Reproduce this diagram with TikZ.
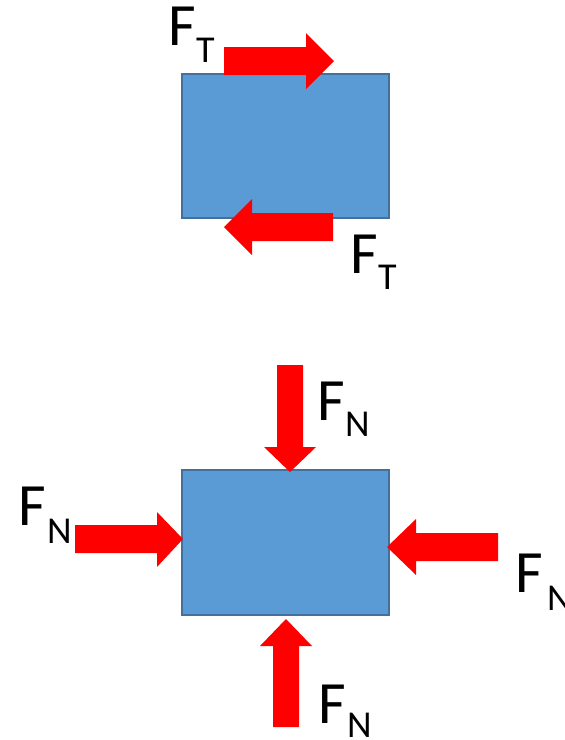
\documentclass[tikz,border=0pt]{standalone}
\usepackage{fontspec}
\setmainfont{Carlito}
\begin{document}
\begin{tikzpicture}[x=1pt,y=-1pt,
  block/.style={fill=blockfill,draw=blockline,line width=2pt},
  force/.style={fill=red,draw=none},
  bigF/.style={inner sep=0pt,anchor=base west,font=\fontsize{60}{60}\selectfont},
  subidx/.style={inner sep=0pt,anchor=base west,font=\fontsize{38}{38}\selectfont}]
\definecolor{blockfill}{HTML}{5B9BD5}
\definecolor{blockline}{HTML}{41719C}
\useasboundingbox (0,0) rectangle (565,740);

% upper block with the two tangential forces
\path[block] (182,74) rectangle (389,218);
\node (upperblock) at (285.5,146) {};
\fill[force] (224,47) -- (306,47) -- (306,33) -- (334,61) -- (306,89) -- (306,75) -- (224,75) -- cycle;
\fill[force] (333,213) -- (252,213) -- (252,199) -- (224,227) -- (252,255) -- (252,241) -- (333,241) -- cycle;
\node[bigF] (ft1) at (168,45) {F};
\node[subidx] (ft1s) at (196,62) {T};
\node[bigF] (ft2) at (350,273) {F};
\node[subidx] (ft2s) at (378,289) {T};

% lower block with the four normal forces
\path[block] (182,470) rectangle (389,615);
\node (lowerblock) at (285.5,542.5) {};
% from above
\fill[force] (277,365) -- (303,365) -- (303,447) -- (316,447) -- (290,472) -- (264,447) -- (277,447) -- cycle;
% from below
\fill[force] (273,727) -- (299,727) -- (299,646) -- (312,646) -- (286,619) -- (260,646) -- (273,646) -- cycle;
% from the left
\fill[force] (75,525) -- (157,525) -- (157,512) -- (183,539) -- (157,567) -- (157,553) -- (75,553) -- cycle;
% from the right
\fill[force] (498,533) -- (416,533) -- (416,519) -- (387,547) -- (416,575) -- (416,561) -- (498,561) -- cycle;

\node[bigF] (fn1) at (317,420) {F};
\node[subidx] (fn1s) at (345,436) {N};
\node[bigF] (fn2) at (18,525) {F};
\node[subidx] (fn2s) at (47,543) {N};
\node[bigF] (fn3) at (515,592) {F};
\node[subidx] (fn3s) at (547,610) {N};
\node[bigF] (fn4) at (318,723) {F};
\node[subidx] (fn4s) at (347,737) {N};
\end{tikzpicture}
\end{document}
